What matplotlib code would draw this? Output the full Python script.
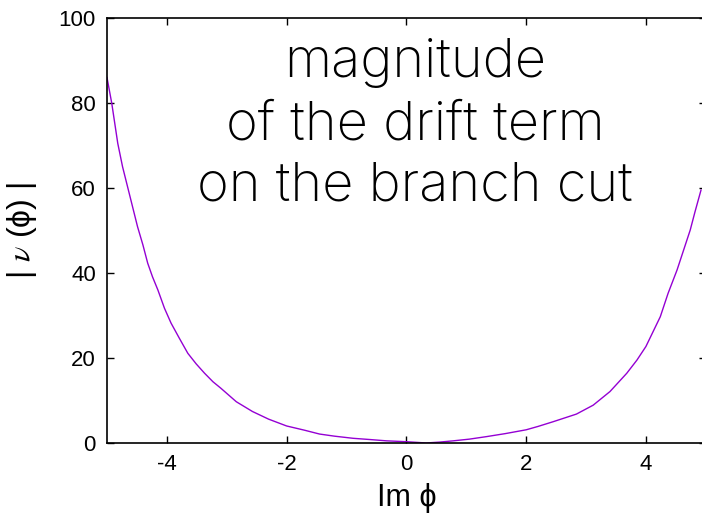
import matplotlib.pyplot as plt

plt.rcParams['font.family'] = ['Liberation Sans', 'DejaVu Sans']
plt.rcParams['mathtext.fontset'] = 'stix'
plt.rcParams['axes.unicode_minus'] = False

# |v(phi)| sampled along Im phi
im_phi = [-5.0, -4.92, -4.82, -4.74, -4.63, -4.49, -4.40, -4.32, -4.24, -4.15,
          -4.04, -3.93, -3.79, -3.65, -3.51, -3.37, -3.23, -3.1, -2.84, -2.57,
          -2.3, -2.0, -1.7, -1.45, -1.2, -0.89, -0.6, -0.33, 0.0, 0.33,
          0.55, 0.78, 1.05, 1.34, 1.65, 2.0, 2.2, 2.45, 2.84, 3.12,
          3.40, 3.68, 3.85, 4.0, 4.12, 4.24, 4.37, 4.52, 4.63, 4.74,
          4.82, 4.92]
drift_mag = [86.0, 79.9, 70.5, 65.0, 58.8, 50.9, 46.6, 42.3, 39.1, 36.0,
             31.7, 28.2, 24.6, 21.1, 18.6, 16.4, 14.4, 12.9, 9.7, 7.4,
             5.6, 4.0, 3.0, 2.1, 1.6, 1.1, 0.8, 0.5, 0.3, 0.0,
             0.2, 0.5, 0.9, 1.5, 2.2, 3.1, 3.9, 5.0, 6.8, 8.9,
             12.1, 16.4, 19.5, 22.7, 26.2, 29.7, 35.2, 40.7, 45.4, 50.1,
             54.4, 59.5]

xticks = [-4, -2, 0, 2, 4]
yticks = [0, 20, 40, 60, 80, 100]

fig = plt.figure(figsize=(7.02, 5.13), dpi=100)
ax = fig.add_axes([0.1524, 0.1365, 0.853, 0.8285])

ax.plot(im_phi, drift_mag, color='#9400D3', lw=1.0)

ax.set_xlim(-5, 5)
ax.set_ylim(0, 100)
ax.set_xticks(xticks)
ax.set_yticks(yticks)
ax.tick_params(direction='in', length=5, width=1, top=True, right=True,
               labelsize=16, pad=8)
for s in ax.spines.values():
    s.set_linewidth(1.2)

ax.set_xlabel('Im ϕ', fontsize=22, labelpad=6)
ax.set_ylabel(r'| $\nu$ (ϕ) |', fontsize=23, labelpad=14)

fig.text(0.591, 0.756, 'magnitude\nof the drift term\non the branch cut',
         ha='center', va='center', fontsize=39, linespacing=1.3,
         family=['Inter', 'DejaVu Sans'], fontweight='light')

fig.savefig('out.png', dpi=100)
